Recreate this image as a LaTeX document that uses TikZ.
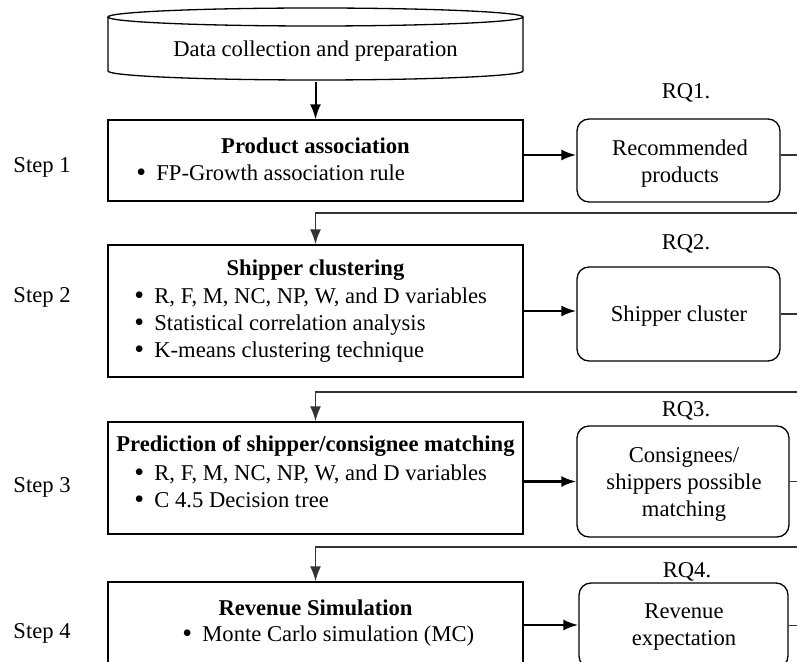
\documentclass[tikz,border=0pt]{standalone}
\usepackage{fontspec}
\setmainfont{Liberation Serif}
\usetikzlibrary{arrows.meta,calc}
\tikzset{
  stepbox/.style={draw,rectangle,line width=0.65pt,minimum width=207.5pt},
  outbox/.style={draw,rectangle,rounded corners=6pt,line width=0.65pt,align=center},
  txt/.style={inner sep=0pt,align=left},
  arr/.style={-{Latex[length=7.5pt,width=5.5pt]},line width=1.2pt},
  back/.style={-{Latex[length=7.5pt,width=5.5pt]},line width=0.9pt,draw=black!80},
}
\newcommand{\itm}{\makebox[10pt][l]{\raisebox{-0.6pt}{\fontsize{14}{13.5}\selectfont\textbullet}}}

\begin{document}
\begin{tikzpicture}[x=0.5pt,y=-0.5pt,font=\fontsize{11.3}{13.5}\selectfont]
  \clip (0,0) rectangle (797,662);

  % data source (cylinder)
  \node[minimum width=207.5pt,minimum height=31pt] (data) at (315.5,51) {Data collection and preparation};
  \draw[line width=0.65pt] (108,17) -- (108,71) arc[start angle=180,end angle=0,x radius=207.5,y radius=9] -- (523,17);
  \draw[line width=0.65pt] (315.5,17) ellipse[x radius=207.5,y radius=9];

  % steps
  \node[stepbox,minimum height=40.5pt] (step1) at (315.5,160.5) {};
  \node[stepbox,minimum height=66pt] (step2) at (315.5,311) {};
  \node[stepbox,minimum height=56pt] (step3) at (315.5,478) {};
  \node[stepbox,minimum height=43pt] (step4) at (315.5,625) {};

  \node[txt] (t1) at (315.5,146) {\textbf{Product association}};
  \node[txt,anchor=west] (b1) at (136,173) {\itm FP-Growth association rule};
  \node[txt] (t2) at (315.5,270) {\textbf{Shipper clustering}};
  \node[txt,anchor=west] (b2) at (134,325) {\itm R, F, M, NC, NP, W, and D variables\\
    \itm Statistical correlation analysis\\
    \itm K-means clustering technique};
  \node[txt] (t3) at (315.5,446) {\textbf{Prediction of shipper/consignee matching}};
  \node[txt,anchor=west] (b3) at (134,486.5) {\itm R, F, M, NC, NP, W, and D variables\\
    \itm C 4.5 Decision tree};
  \node[txt] (t4) at (315.5,608) {\textbf{Revenue Simulation}};
  \node[txt,anchor=west] (b4) at (182,636) {\itm Monte Carlo simulation (MC)};

  \node (s1) at (42,167) {Step 1};
  \node (s2) at (42,297) {Step 2};
  \node (s3) at (42,487) {Step 3};
  \node (s4) at (42,633) {Step 4};

  % outputs
  \node[outbox,minimum width=101.5pt,minimum height=41.5pt] (out1) at (678.5,160.5) {};
  \node[outbox,minimum width=101.5pt,minimum height=47pt] (out2) at (678.5,314) {};
  \node[outbox,minimum width=106pt,minimum height=55.5pt] (out3) at (683,481.5) {};
  \node[outbox,minimum width=104.5pt,minimum height=42.5pt] (out4) at (683.5,625.5) {};

  \node[align=center] (o1) at (680,164) {Recommended\\products};
  \node (o2) at (679,316) {Shipper cluster};
  \node[align=center] (o3) at (684,484.5) {Consignees/\\shippers possible\\matching};
  \node[align=center] (o4) at (684,627.5) {Revenue\\expectation};

  \node (rq1) at (686,93) {RQ1.};
  \node (rq2) at (686,244) {RQ2.};
  \node (rq3) at (686,411) {RQ3.};
  \node (rq4) at (687,572) {RQ4.};

  \coordinate (r2) at (315.5,213);
  \coordinate (r3) at (315.5,392);
  \coordinate (r4) at (315.5,547);

  \draw[arr,line width=1pt] (data.south) -- (step1.north);
  \draw[arr] (step1.east |- 0,155) -- (out1.west |- 0,155);
  \draw[arr] (step2.east) -- (step2.east -| out2.west);
  \draw[arr] (step3.east |- out3.west) -- (out3.west);
  \draw[arr] (step4.east) -- (step4.east -| out4.west);

  \draw[back] (out1.east |- 0,155) -- ++(30,0) |- (r2) -- (step2.north);
  \draw[back] (out2.east) -- ++(30,0) |- (r3) -- (step3.north);
  \draw[back] (out3.east) -- ++(30,0) |- (r4) -- (step4.north);
  \draw[back] (out4.east) -- ++(30,0);
\end{tikzpicture}
\end{document}
